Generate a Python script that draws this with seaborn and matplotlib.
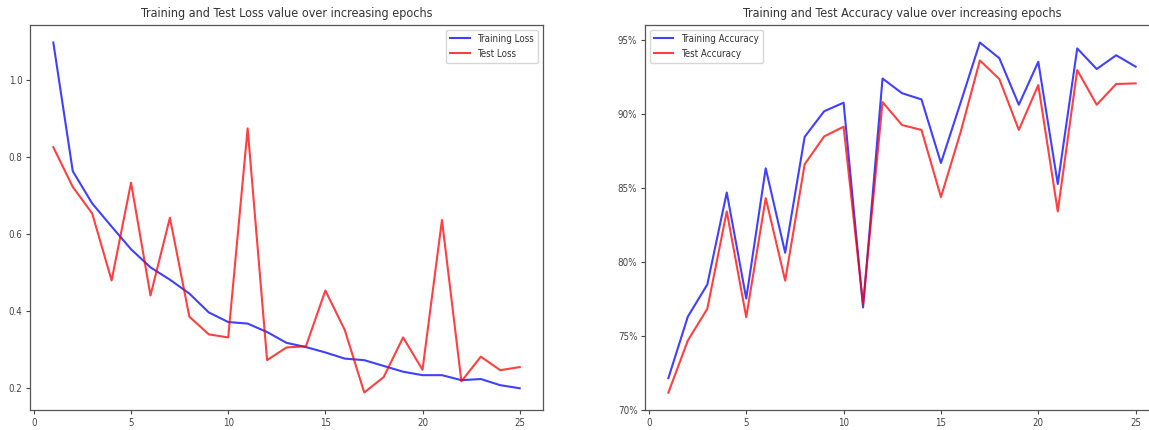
import matplotlib
matplotlib.use("Agg")
import matplotlib.pyplot as plt
import seaborn as sns
import pandas as pd
from matplotlib.ticker import PercentFormatter
from matplotlib import font_manager

epochs = list(range(1, 26))
train_loss = [1.098, 0.764, 0.680, 0.620, 0.561, 0.514, 0.482, 0.446, 0.397, 0.372,
              0.368, 0.346, 0.318, 0.307, 0.293, 0.277, 0.273, 0.258, 0.243, 0.234,
              0.234, 0.221, 0.224, 0.208, 0.200]
test_loss = [0.826, 0.723, 0.654, 0.480, 0.734, 0.441, 0.643, 0.386, 0.340, 0.332,
             0.875, 0.273, 0.306, 0.309, 0.454, 0.351, 0.189, 0.229, 0.332, 0.248,
             0.637, 0.218, 0.282, 0.247, 0.255]
train_acc = [72.15, 76.30, 78.47, 84.68, 77.52, 86.31, 80.61, 88.43, 90.16, 90.74,
             76.92, 92.37, 91.38, 90.96, 86.67, 90.70, 94.80, 93.74, 90.60, 93.50,
             85.25, 94.40, 93.01, 93.94, 93.17]
test_acc = [71.17, 74.69, 76.83, 83.40, 76.26, 84.30, 78.73, 86.58, 88.46, 89.12,
            77.14, 90.78, 89.23, 88.90, 84.37, 88.70, 93.59, 92.33, 88.90, 91.93,
            83.40, 92.94, 90.60, 92.00, 92.04]

names = {f.name for f in font_manager.fontManager.ttflist}
if "Liberation Sans Narrow" in names:
    plt.rcParams["font.family"] = ["Liberation Sans Narrow", "DejaVu Sans"]
else:
    plt.rcParams["font.family"] = ["DejaVu Sans"]
    plt.rcParams["font.stretch"] = "condensed"

W, H = 1149, 430
fig = plt.figure(figsize=(W / 100, H / 100), dpi=100)
ax1 = fig.add_axes([30 / W, 20 / H, 513 / W, 385 / H])
ax2 = fig.add_axes([645 / W, 20 / H, 514 / W, 385 / H])

loss_df = pd.DataFrame({"epoch": epochs * 2,
                        "value": train_loss + test_loss,
                        "series": ["Training Loss"] * 25 + ["Test Loss"] * 25})
acc_df = pd.DataFrame({"epoch": epochs * 2,
                       "value": train_acc + test_acc,
                       "series": ["Training Accuracy"] * 25 + ["Test Accuracy"] * 25})

sns.lineplot(data=loss_df, x="epoch", y="value", hue="series",
             palette={"Training Loss": "blue", "Test Loss": "red"},
             alpha=0.75, linewidth=1.5, ax=ax1)
sns.lineplot(data=acc_df, x="epoch", y="value", hue="series",
             palette={"Training Accuracy": "blue", "Test Accuracy": "red"},
             alpha=0.75, linewidth=1.5, ax=ax2)

tc = "#444444"
for ax in (ax1, ax2):
    ax.set_xlabel("")
    ax.set_ylabel("")
    ax.set_xticks([0, 5, 10, 15, 20, 25])
    ax.tick_params(labelsize=7, colors=tc, length=3, width=0.8, pad=2.5)
    for s in ax.spines.values():
        s.set_color("#555555")
        s.set_linewidth(0.9)

ax1.set_title("Training and Test Loss value over increasing epochs", fontsize=9, color="#333333")
ax2.set_title("Training and Test Accuracy value over increasing epochs", fontsize=9, color="#333333")
ax1.set_yticks([0.2, 0.4, 0.6, 0.8, 1.0])
ax2.set_ylim(bottom=70)
ax2.yaxis.set_major_formatter(PercentFormatter(xmax=100, decimals=0))

for ax, loc in ((ax1, "upper right"), (ax2, "upper left")):
    leg = ax.legend(loc=loc, fontsize=7, title=None, frameon=True)
    for t in leg.get_texts():
        t.set_color("#333333")

fig.savefig("out.png", dpi=100)
